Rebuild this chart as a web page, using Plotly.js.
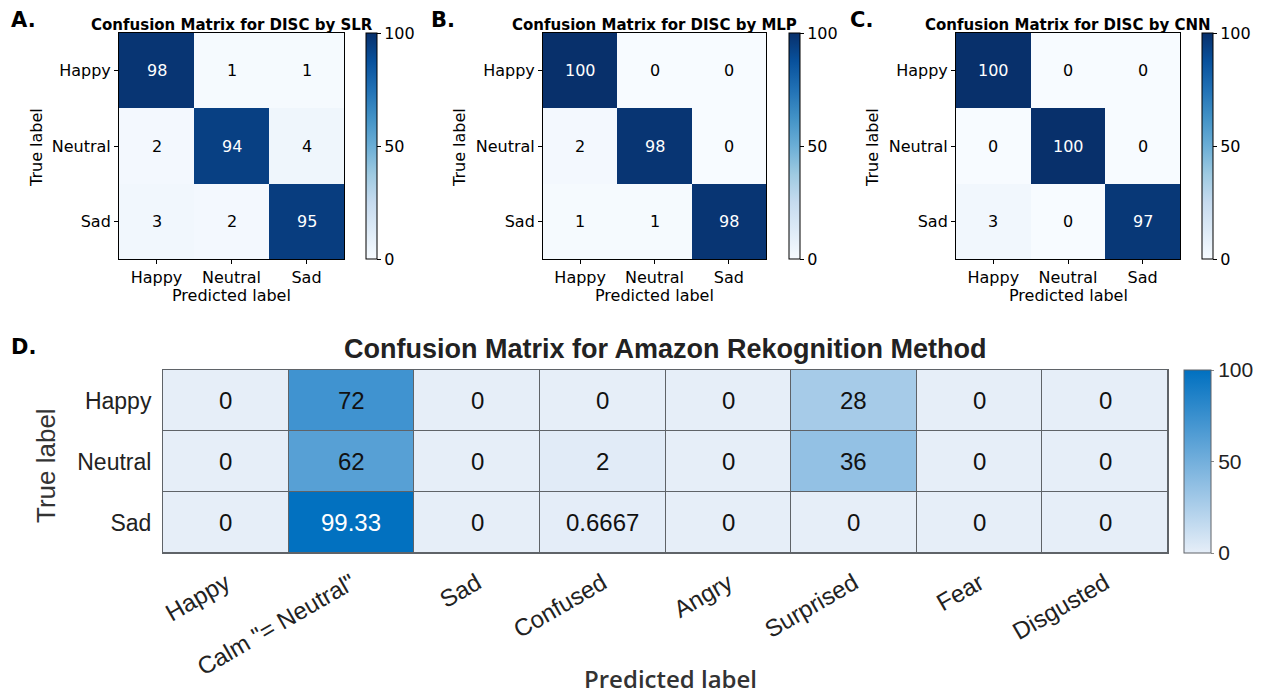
<!DOCTYPE html>
<html>
<head>
<meta charset="utf-8">
<script src="https://cdn.plot.ly/plotly-3.0.1.min.js"></script>
<style>html,body{margin:0;padding:0;background:#fff;}#chart{width:1266px;height:694px;}</style>
</head>
<body>
<div id="chart"></div>
<script>
// ---------------- data ----------------
const discCategories = ['Happy', 'Neutral', 'Sad'];
const slrValues = [[98, 1, 1], [2, 94, 4], [3, 2, 95]];
const mlpValues = [[100, 0, 0], [2, 98, 0], [1, 1, 98]];
const cnnValues = [[100, 0, 0], [0, 100, 0], [3, 0, 97]];
const discTitles = ['Confusion Matrix for DISC by SLR', 'Confusion Matrix for DISC by MLP', 'Confusion Matrix for DISC by CNN'];
const panelLetters = ['A.', 'B.', 'C.', 'D.'];

const amazonPredicted = ['Happy', 'Calm "= Neutral"', 'Sad', 'Confused', 'Angry', 'Surprised', 'Fear', 'Disgusted'];
const amazonTrue = ['Happy', 'Neutral', 'Sad'];
const amazonValues = [
  [0, 72, 0, 0, 0, 28, 0, 0],
  [0, 62, 0, 2, 0, 36, 0, 0],
  [0, 99.33, 0, 0.6667, 0, 0, 0, 0]
];
const amazonTitle = 'Confusion Matrix for Amazon Rekognition Method';
const colorTicks = [0, 50, 100];

// ---------------- layout helpers ----------------
const W = 1266, H = 694;
const fx = p => p / W;
const fy = p => 1 - p / H;

const mplBlues = [
  [0, '#f7fbff'], [0.125, '#deebf7'], [0.25, '#c6dbef'], [0.375, '#9ecae1'],
  [0.5, '#6baed6'], [0.625, '#4292c6'], [0.75, '#2171b5'], [0.875, '#08519c'], [1, '#08306b']
];
const amazonScale = [[0, '#e6eef8'], [1, '#0070c0']];

const dv = 'DejaVu Sans';
const lib = 'Liberation Sans, Arial, sans-serif';

// pixel boxes of the small panels
const topBoxes = [
  {x0: 119, x1: 344, cb: 366, ylab: 37, letter: 23},
  {x0: 543, x1: 766, cb: 789, ylab: 460, letter: 443},
  {x0: 956, x1: 1180, cb: 1202, ylab: 873, letter: 861}
];
const topY0 = 33, topY1 = 259;
const dBox = {x0: 163, x1: 1168, y0: 370, y1: 553, cb: 1184};

const discData = [slrValues, mlpValues, cnnValues];
const traces = [];
const annotations = [];
const layout = {
  width: W, height: H,
  margin: {l: 0, r: 0, t: 0, b: 0},
  paper_bgcolor: '#ffffff',
  plot_bgcolor: '#5f6368',
  showlegend: false,
  annotations: annotations,
  font: {family: dv, color: '#000'}
};

discData.forEach((vals, i) => {
  const b = topBoxes[i];
  const xa = 'x' + (i === 0 ? '' : i + 1);
  const ya = 'y' + (i === 0 ? '' : i + 1);
  const xkey = 'xaxis' + (i === 0 ? '' : i + 1);
  const ykey = 'yaxis' + (i === 0 ? '' : i + 1);
  traces.push({
    type: 'heatmap', z: vals, x: discCategories, y: discCategories,
    xaxis: xa, yaxis: ya, zmin: 0, zmax: 100, colorscale: mplBlues,
    hoverinfo: 'skip',
    colorbar: {
      x: fx(b.cb), xanchor: 'left', xref: 'paper',
      y: fy((topY0 + topY1) / 2), yanchor: 'middle', yref: 'paper',
      len: topY1 - topY0, lenmode: 'pixels', thickness: 11, thicknessmode: 'pixels',
      xpad: 0, ypad: 0, outlinewidth: 1, outlinecolor: '#000',
      ticks: 'outside', ticklen: 4, tickcolor: '#000', tickvals: colorTicks,
      tickfont: {family: dv, size: 16, color: '#000'}
    }
  });
  layout[xkey] = {
    domain: [fx(b.x0), fx(b.x1)], anchor: ya, type: 'category',
    showline: true, mirror: true, linecolor: '#000', linewidth: 1,
    ticks: 'outside', ticklen: 4, tickcolor: '#000', showgrid: false, zeroline: false,
    tickfont: {family: dv, size: 16, color: '#000'}
  };
  layout[ykey] = {
    domain: [fy(topY1), fy(topY0)], anchor: xa, type: 'category', autorange: 'reversed',
    showline: true, mirror: true, linecolor: '#000', linewidth: 1,
    ticks: 'outside', ticklen: 4, tickcolor: '#000', showgrid: false, zeroline: false,
    tickfont: {family: dv, size: 16, color: '#000'}
  };
  // cell values
  vals.forEach((row, r) => row.forEach((v, c) => {
    annotations.push({
      xref: xa, yref: ya, x: discCategories[c], y: discCategories[r], text: String(v),
      showarrow: false, font: {family: dv, size: 16, color: v > 50 ? '#ffffff' : '#000000'}
    });
  }));
  const cx = (b.x0 + b.x1) / 2;
  annotations.push({xref: 'paper', yref: 'paper', x: fx(cx), y: fy(25), text: '<b>' + discTitles[i] + '</b>',
    showarrow: false, xanchor: 'center', yanchor: 'middle', font: {family: dv, size: 15, color: '#000'}});
  annotations.push({xref: 'paper', yref: 'paper', x: fx(cx), y: fy(295), text: 'Predicted label',
    showarrow: false, xanchor: 'center', yanchor: 'middle', font: {family: dv, size: 16, color: '#000'}});
  annotations.push({xref: 'paper', yref: 'paper', x: fx(b.ylab), y: fy(148), text: 'True label', textangle: -90,
    showarrow: false, xanchor: 'center', yanchor: 'middle', font: {family: dv, size: 16, color: '#000'}});
  annotations.push({xref: 'paper', yref: 'paper', x: fx(b.letter), y: fy(20), text: '<b>' + panelLetters[i] + '</b>',
    showarrow: false, xanchor: 'center', yanchor: 'middle', font: {family: 'DejaVu Sans', size: 21, color: '#000', weight: 900}});
});

// ---------------- panel D ----------------
traces.push({
  type: 'heatmap', z: amazonValues, x: amazonPredicted, y: amazonTrue,
  xaxis: 'x4', yaxis: 'y4', zmin: 0, zmax: 100, colorscale: amazonScale,
  xgap: 1, ygap: 1, hoverinfo: 'skip',
  colorbar: {
    x: fx(dBox.cb), xanchor: 'left', xref: 'paper',
    y: fy((dBox.y0 + dBox.y1) / 2), yanchor: 'middle', yref: 'paper',
    len: dBox.y1 - dBox.y0, lenmode: 'pixels', thickness: 27, thicknessmode: 'pixels',
    xpad: 0, ypad: 0, outlinewidth: 1, outlinecolor: '#5f6368',
    ticks: 'outside', ticklen: 3, tickcolor: '#888', tickvals: colorTicks,
    tickfont: {family: lib, size: 21, color: '#222'}
  }
});
layout.xaxis4 = {
  domain: [fx(dBox.x0), fx(dBox.x1)], anchor: 'y4', type: 'category',
  showline: true, mirror: true, linecolor: '#5f6368', linewidth: 1,
  ticks: '', showgrid: false, zeroline: false, tickangle: -30, ticklabelstandoff: 6,
  tickfont: {family: lib, size: 24, color: '#222'}
};
layout.yaxis4 = {
  domain: [fy(dBox.y1), fy(dBox.y0)], anchor: 'x4', type: 'category', autorange: 'reversed',
  showline: true, mirror: true, linecolor: '#5f6368', linewidth: 1,
  ticks: '', showgrid: false, zeroline: false, ticklabelstandoff: 6,
  tickfont: {family: lib, size: 23, color: '#222'}
};
amazonValues.forEach((row, r) => row.forEach((v, c) => {
  annotations.push({
    xref: 'x4', yref: 'y4', x: amazonPredicted[c], y: amazonTrue[r], text: String(v),
    showarrow: false, font: {family: lib, size: 24, color: v > 80 ? '#ffffff' : '#111111'}
  });
}));
annotations.push({xref: 'paper', yref: 'paper', x: fx(665), y: fy(349), text: '<b>' + amazonTitle + '</b>',
  showarrow: false, xanchor: 'center', yanchor: 'middle', font: {family: lib, size: 27, color: '#222'}});
annotations.push({xref: 'paper', yref: 'paper', x: fx(670), y: fy(678), text: 'Predicted label',
  showarrow: false, xanchor: 'center', yanchor: 'middle', font: {family: 'Open Sans', size: 24, color: '#333', weight: 600}});
annotations.push({xref: 'paper', yref: 'paper', x: fx(46), y: fy(466), text: 'True label', textangle: -90,
  showarrow: false, xanchor: 'center', yanchor: 'middle', font: {family: lib, size: 26, color: '#333'}});
annotations.push({xref: 'paper', yref: 'paper', x: fx(23), y: fy(347), text: '<b>' + panelLetters[3] + '</b>',
  showarrow: false, xanchor: 'center', yanchor: 'middle', font: {family: 'DejaVu Sans', size: 21, color: '#000', weight: 900}});

Plotly.newPlot('chart', traces, layout, {staticPlot: true, displayModeBar: false});
</script>
</body>
</html>
